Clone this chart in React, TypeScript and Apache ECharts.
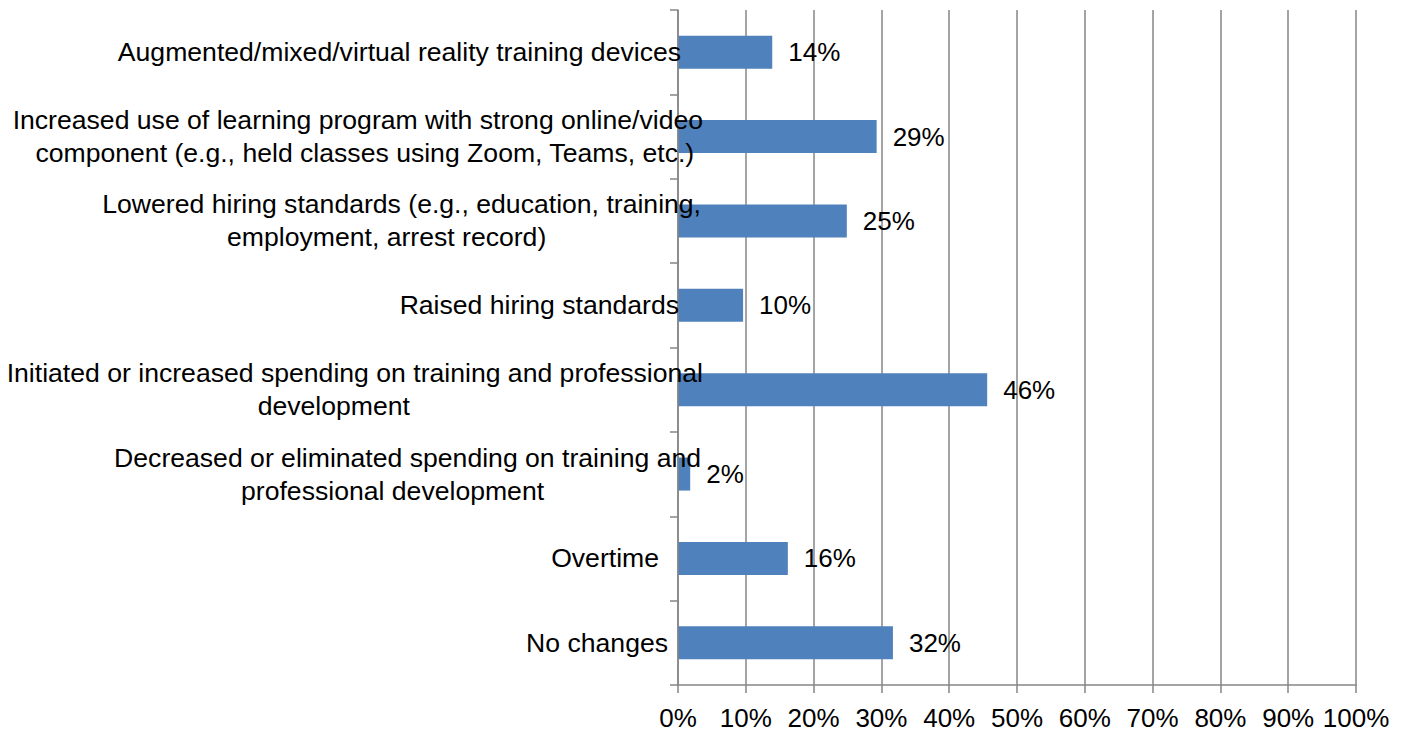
import React, { useEffect, useRef } from "react";
import * as echarts from "echarts";

const categories: string[] = [
  "Augmented/mixed/virtual reality training devices",
  "Increased use of learning program with strong online/video\ncomponent (e.g., held classes using Zoom, Teams, etc.)",
  "Lowered hiring standards (e.g., education, training,\nemployment, arrest record)",
  "Raised hiring standards",
  "Initiated or increased spending on training and professional\ndevelopment",
  "Decreased or eliminated spending on training and\nprofessional development",
  "Overtime",
  "No changes",
];

const values: number[] = [13.9, 29.3, 24.9, 9.6, 45.6, 1.8, 16.2, 31.7];

const xTicks: number[] = [0, 10, 20, 30, 40, 50, 60, 70, 80, 90, 100];

// horizontal nudge (px) for each category label, to mimic the original layout
const labelShift: number[] = [22, 0, 2, 24, 0, 2, 44, 35];
// extra nudge (px, positive = left) for the second line of wrapped labels
const secondLineShift: number[] = [0, -7, 15, 0, 21, 15, 0, 0];

const FONT = "'Liberation Sans', Arial, sans-serif";
const GRAY = "#868686";

export default function App() {
  const ref = useRef<HTMLDivElement>(null);

  useEffect(() => {
    if (!ref.current) return;
    const chart = echarts.init(ref.current, null, { renderer: "svg" });

    const base = {
      align: "center",
      fontSize: 26.6,
      lineHeight: 33,
      fontFamily: FONT,
      color: "#000",
    };
    const rich: Record<string, any> = {};
    categories.forEach((_, i) => {
      rich["l" + i] = { ...base, padding: [0, labelShift[i], 0, 0] };
      const s = secondLineShift[i];
      rich["m" + i] = {
        ...base,
        padding: [0, labelShift[i] + (s > 0 ? 2 * s : 0), 0, s < 0 ? -2 * s : 0],
      };
    });

    chart.setOption({
      animation: false,
      textStyle: { fontFamily: FONT },
      grid: {
        left: 678,
        right: 58,
        top: 10,
        bottom: 49,
        containLabel: false,
        outerBoundsMode: "none",
      },
      xAxis: {
        type: "value",
        min: xTicks[0],
        max: xTicks[xTicks.length - 1],
        interval: xTicks[1] - xTicks[0],
        axisLine: { show: true, lineStyle: { color: GRAY, width: 1.5 } },
        axisTick: { show: true, length: 8, lineStyle: { color: GRAY, width: 1.5 } },
        splitLine: { show: true, lineStyle: { color: GRAY, width: 1.5 } },
        axisLabel: {
          formatter: "{value}%",
          fontSize: 26,
          color: "#000",
          fontFamily: FONT,
          margin: 20,
        },
      },
      yAxis: {
        type: "category",
        inverse: true,
        data: categories,
        z: 10,
        axisLine: { show: true, lineStyle: { color: GRAY, width: 1.5 } },
        axisTick: { show: true, length: 8, lineStyle: { color: GRAY, width: 1.5 } },
        splitLine: { show: false },
        axisLabel: {
          margin: -25,
          align: "right",
          interval: 0,
          formatter: (value: string, index: number) =>
            value
              .split("\n")
              .map((line, k) => `{${k === 0 ? "l" : "m"}${index}|${line}}`)
              .join("\n"),
          rich,
        },
      },
      series: [
        {
          type: "bar",
          data: values,
          barWidth: 33,
          itemStyle: { color: "#4F81BD" },
          label: {
            show: true,
            position: "right",
            distance: 16,
            fontSize: 26,
            color: "#000",
            fontFamily: FONT,
            formatter: (p: any) => Math.round(p.value) + "%",
          },
        },
      ],
    });

    return () => chart.dispose();
  }, []);

  return (
    <div
      ref={ref}
      style={{ position: "absolute", left: 0, top: 0, width: 1414, height: 734 }}
    />
  );
}
